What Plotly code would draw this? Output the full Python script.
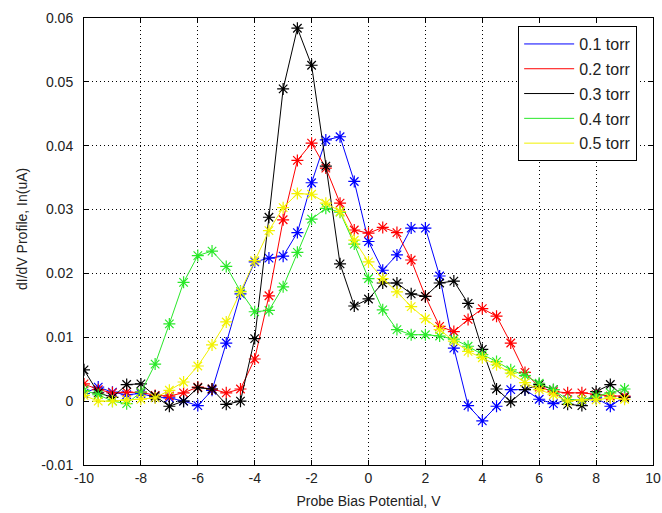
import plotly.graph_objects as go

bias_v = [-10, -9.5, -9, -8.5, -8, -7.5, -7, -6.5, -6, -5.5, -5, -4.5, -4, -3.5, -3, -2.5,
          -2, -1.5, -1, -0.5, 0, 0.5, 1, 1.5, 2, 2.5, 3, 3.5, 4, 4.5, 5, 5.5, 6, 6.5, 7,
          7.5, 8, 8.5, 9]

torr_01 = [0.0012, 0.0022, 0.0014, 0.0010, 0.0012, 0.0006, 0.0005, 0.0000, -0.0007, 0.0017,
           0.0091, 0.0168, 0.0218, 0.0224, 0.0227, 0.0264, 0.0342, 0.0409, 0.0414, 0.0344,
           0.0250, 0.0205, 0.0229, 0.0271, 0.0271, 0.0196, 0.0083, -0.0007, -0.0031, -0.0008,
           0.0018, 0.0018, 0.0003, -0.0004, 0.0002, 0.0001, 0.0005, -0.0008, 0.0007]

torr_02 = [0.0027, 0.0018, 0.0013, 0.0014, 0.0014, 0.0009, 0.0008, 0.0013, 0.0022, 0.0019,
           0.0013, 0.0019, 0.0066, 0.0165, 0.0284, 0.0377, 0.0404, 0.0365, 0.0310, 0.0268,
           0.0263, 0.0272, 0.0264, 0.0221, 0.0164, 0.0117, 0.0109, 0.0128, 0.0145, 0.0133,
           0.0091, 0.0045, 0.0022, 0.0015, 0.0013, 0.0013, 0.0010, 0.0008, 0.0008]

torr_03 = [0.0049, 0.0013, 0.0006, 0.0026, 0.0027, 0.0008, -0.0008, 0.0000, 0.0021, 0.0019,
           -0.0005, 0.0000, 0.0098, 0.0288, 0.0489, 0.0584, 0.0526, 0.0368, 0.0215, 0.0149,
           0.0160, 0.0185, 0.0185, 0.0168, 0.0164, 0.0185, 0.0188, 0.0153, 0.0081, 0.0019,
           -0.0001, 0.0018, 0.0026, 0.0018, -0.0005, -0.0007, 0.0015, 0.0026, 0.0006]

torr_04 = [0.0017, 0.0010, 0.0000, -0.0004, 0.0014, 0.0058, 0.0121, 0.0186, 0.0228, 0.0235,
           0.0211, 0.0172, 0.0140, 0.0142, 0.0179, 0.0233, 0.0285, 0.0302, 0.0296, 0.0246,
           0.0192, 0.0143, 0.0112, 0.0104, 0.0104, 0.0102, 0.0097, 0.0086, 0.0073, 0.0062,
           0.0049, 0.0040, 0.0028, 0.0018, 0.0002, 0.0002, 0.0008, 0.0013, 0.0019]

torr_05 = [0.0009, 0.0000, 0.0000, 0.0002, 0.0003, 0.0005, 0.0017, 0.0030, 0.0055, 0.0088,
           0.0124, 0.0171, 0.0220, 0.0267, 0.0303, 0.0325, 0.0324, 0.0310, 0.0297, 0.0252,
           0.0218, 0.0192, 0.0171, 0.0148, 0.0129, 0.0112, 0.0094, 0.0078, 0.0068, 0.0057,
           0.0044, 0.0029, 0.0018, 0.0010, 0.0000, 0.0002, 0.0002, 0.0005, 0.0003]

series_names = ["0.1 torr", "0.2 torr", "0.3 torr", "0.4 torr", "0.5 torr"]
series_values = [torr_01, torr_02, torr_03, torr_04, torr_05]
series_colors = ["#0000ff", "#ff0000", "#000000", "#2ae82a", "#f2f200"]

x_ticks = [-10, -8, -6, -4, -2, 0, 2, 4, 6, 8, 10]
x_ticktext = ["-10", "-8", "-6", "-4", "-2", "0", "2", "4", "6", "8", "10"]
y_ticks = [-0.01, 0, 0.01, 0.02, 0.03, 0.04, 0.05, 0.06]
y_ticktext = ["-0.01", "0", "0.01", "0.02", "0.03", "0.04", "0.05", "0.06"]

x_title = "Probe Bias Potential, V"
y_title = "dI/dV Profile, In(uA)"

fig = go.Figure()
for name, vals, col in zip(series_names, series_values, series_colors):
    fig.add_trace(go.Scatter(
        x=bias_v, y=vals, mode="lines+markers", name=name, showlegend=False,
        line=dict(color=col, width=1),
        marker=dict(symbol="asterisk-open", size=10, color=col, line=dict(color=col, width=1.2)),
    ))
# legend-only entries (lines only, like the reference legend)
for i, (name, col) in enumerate(zip(series_names, series_colors)):
    fig.add_trace(go.Scatter(
        x=[None], y=[None], mode="lines", name=name, legendgroup=f"g{i}",
        line=dict(color=col, width=1),
    ))

font_family = "Liberation Sans, Arial, sans-serif"
tick_font = dict(family=font_family, size=14, color="#222")
axis_common = dict(
    showline=True, linecolor="black", linewidth=1, mirror="allticks",
    ticks="inside", ticklen=5, tickcolor="black", tickwidth=1,
    showgrid=True, gridcolor="black", gridwidth=1, griddash="1px,3px",
    zeroline=False, tickfont=tick_font, automargin=False,
)

fig.update_layout(
    width=662, height=513,
    margin=dict(l=84, r=9, t=18, b=48),
    paper_bgcolor="white", plot_bgcolor="white",
    font=dict(family=font_family, size=14, color="#222"),
    xaxis=dict(range=[-10, 10], tickvals=x_ticks, ticktext=x_ticktext,
               title=dict(text=x_title, standoff=11, font=tick_font),
               **axis_common),
    yaxis=dict(range=[-0.01, 0.06], tickvals=y_ticks, ticktext=y_ticktext,
               ticklabelstandoff=7, **axis_common),
    legend=dict(x=0.763, y=0.982, xanchor="left", yanchor="top",
                bgcolor="white", bordercolor="black", borderwidth=1,
                font=dict(family=font_family, size=16, color="#222"),
                tracegroupgap=1, itemwidth=50),
)
fig.add_annotation(text=y_title, textangle=-90, xref="paper", yref="paper",
                   x=-0.109, y=0.528, xanchor="center", yanchor="middle",
                   showarrow=False, font=tick_font)

fig.write_html("out.html", post_script="document.body.style.margin='0';",
               config={"displayModeBar": False})
